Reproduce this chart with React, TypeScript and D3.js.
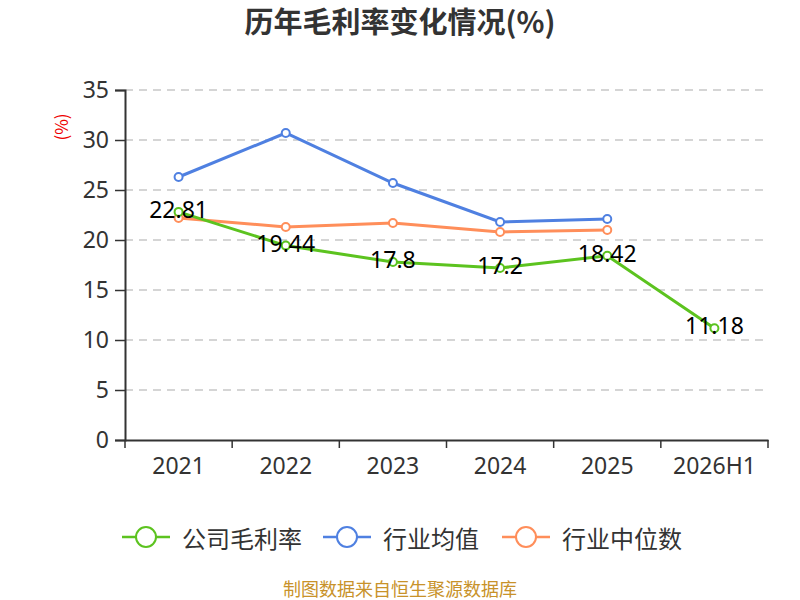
import { useEffect, useRef } from "react"
import * as d3 from "d3"

const years = ["2021", "2022", "2023", "2024", "2025", "2026H1"]
const companyMargin = [22.81, 19.44, 17.8, 17.2, 18.42, 11.18]
const industryAvg = [26.3, 30.7, 25.7, 21.8, 22.1]
const industryMedian = [22.2, 21.3, 21.7, 20.8, 21.0]
const yTicks = [0, 5, 10, 15, 20, 25, 30, 35]

const series = [
  { name: "公司毛利率", color: "#5cc31f", values: companyMargin },
  { name: "行业均值", color: "#4f80e1", values: industryAvg },
  { name: "行业中位数", color: "#ff8e5a", values: industryMedian },
]

export default function App() {
  const svgRef = useRef<SVGSVGElement>(null)
  const width = 800
  const height = 600

  useEffect(() => {
    if (!svgRef.current) return
    const svg = d3.select(svgRef.current)
    svg.selectAll("*").remove()

    const font = "'Noto Sans CJK SC', 'Noto Sans', sans-serif"
    const numFont = "'Noto Sans', 'Noto Sans CJK SC', sans-serif"
    const margin = { top: 90, right: 32, bottom: 160, left: 125 }
    const innerWidth = width - margin.left - margin.right
    const innerHeight = height - margin.top - margin.bottom

    // Title
    svg.append("text")
      .attr("x", width / 2)
      .attr("y", 33)
      .attr("text-anchor", "middle")
      .style("font-family", font)
      .style("font-size", "29px")
      .style("font-weight", "bold")
      .style("fill", "#333")
      .text("历年毛利率变化情况(%)")

    const g = svg.append("g")
      .attr("transform", `translate(${margin.left},${margin.top})`)

    const x = d3.scaleBand().domain(years).range([0, innerWidth])
    const y = d3.scaleLinear().domain([0, 35]).range([innerHeight, 0])
    const cx = (d: string) => (x(d) || 0) + x.bandwidth() / 2

    // Grid lines
    g.selectAll(".grid")
      .data(yTicks.filter(t => t > 0))
      .enter()
      .append("line")
      .attr("x1", 0)
      .attr("x2", innerWidth)
      .attr("y1", d => y(d))
      .attr("y2", d => y(d))
      .attr("stroke", "#c8c8c8")
      .attr("stroke-width", 1.5)
      .attr("stroke-dasharray", "8,6")

    // Y axis
    const yAxis = g.append("g")
      .call(d3.axisLeft(y).tickValues(yTicks).tickSize(10).tickPadding(6))
    yAxis.select(".domain").attr("stroke", "#333").attr("stroke-width", 2)
    yAxis.selectAll(".tick line").attr("stroke", "#333").attr("stroke-width", 1.5)
    yAxis.selectAll("text")
      .style("font-family", numFont)
      .style("font-size", "23px")
      .style("fill", "#333")

    // X axis
    const xAxis = g.append("g")
      .attr("transform", `translate(0,${innerHeight})`)
      .call(d3.axisBottom(x).tickSize(0).tickPadding(18))
    xAxis.select(".domain").attr("stroke", "#333").attr("stroke-width", 2)
    xAxis.selectAll("text")
      .style("font-family", numFont)
      .style("font-size", "23px")
      .style("fill", "#333")
    g.append("g")
      .selectAll("line")
      .data([...years.map(d => x(d) || 0), innerWidth])
      .enter()
      .append("line")
      .attr("x1", d => d)
      .attr("x2", d => d)
      .attr("y1", innerHeight)
      .attr("y2", innerHeight + 8)
      .attr("stroke", "#333")
      .attr("stroke-width", 1.5)

    // Y axis unit
    svg.append("text")
      .attr("transform", `translate(68,127) rotate(-90)`)
      .attr("text-anchor", "middle")
      .style("font-family", font)
      .style("font-size", "17px")
      .style("fill", "#e00")
      .text("(%)")

    // Lines, company series drawn last
    const order = [series[1], series[2], series[0]]
    order.forEach(s => {
      const pts = s.values.map((v, i) => ({ year: years[i], v }))
      const line = d3.line<{ year: string; v: number }>()
        .x(d => cx(d.year))
        .y(d => y(d.v))
      g.append("path")
        .datum(pts)
        .attr("d", line)
        .attr("fill", "none")
        .attr("stroke", s.color)
        .attr("stroke-width", 3)
      g.selectAll(null)
        .data(pts)
        .enter()
        .append("circle")
        .attr("cx", d => cx(d.year))
        .attr("cy", d => y(d.v))
        .attr("r", 4)
        .attr("fill", "#fff")
        .attr("stroke", s.color)
        .attr("stroke-width", 2)
    })

    // Value labels
    g.selectAll(".label")
      .data(companyMargin)
      .enter()
      .append("text")
      .attr("x", (d, i) => cx(years[i]))
      .attr("y", d => y(d) - 3)
      .attr("text-anchor", "middle")
      .attr("dominant-baseline", "central")
      .style("font-family", numFont)
      .style("font-size", "23px")
      .style("fill", "#000")
      .text(d => d)

    // Legend
    const legendX = [122, 323, 502]
    const legend = svg.append("g")
    series.forEach((s, i) => {
      const lg = legend.append("g").attr("transform", `translate(${legendX[i]},537)`)
      lg.append("line")
        .attr("x1", 0).attr("x2", 48)
        .attr("y1", 0).attr("y2", 0)
        .attr("stroke", s.color)
        .attr("stroke-width", 2.5)
      lg.append("circle")
        .attr("cx", 24).attr("cy", 0).attr("r", 10)
        .attr("fill", "#fff")
        .attr("stroke", s.color)
        .attr("stroke-width", 2)
      lg.append("text")
        .attr("x", 60)
        .attr("y", 0)
        .attr("dominant-baseline", "central")
        .style("font-family", font)
        .style("font-size", "24px")
        .style("fill", "#333")
        .text(s.name)
    })

    // Footer
    svg.append("text")
      .attr("x", width / 2)
      .attr("y", 596)
      .attr("text-anchor", "middle")
      .style("font-family", font)
      .style("font-size", "18px")
      .style("fill", "#c8922a")
      .text("制图数据来自恒生聚源数据库")
  }, [])

  return (
    <svg
      ref={svgRef}
      width={width}
      height={height}
      style={{ position: "absolute", left: 0, top: 0, background: "#fff" }}
    />
  )
}
